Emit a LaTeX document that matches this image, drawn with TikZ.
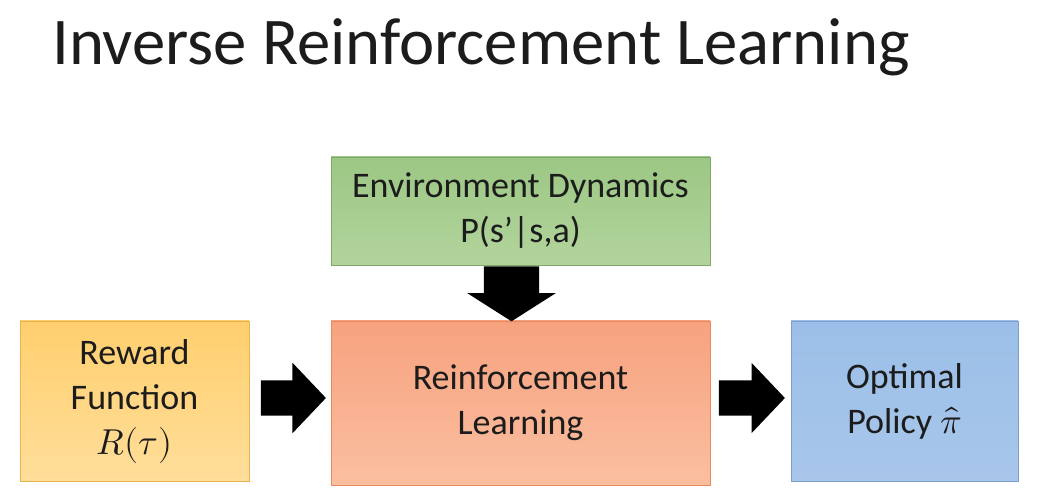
\documentclass[tikz,border=0pt]{standalone}
\usepackage{unicode-math}
\setmainfont{Carlito}
\setmathfont{Latin Modern Math}
\usetikzlibrary{shapes.arrows,positioning}
\definecolor{grnT}{HTML}{9CC784}
\definecolor{grnB}{HTML}{B2D49C}
\definecolor{grnD}{HTML}{7FA866}
\definecolor{yelT}{HTML}{FFCF6E}
\definecolor{yelB}{HTML}{FFDE9A}
\definecolor{yelD}{HTML}{E8B34E}
\definecolor{orT}{HTML}{F7A27F}
\definecolor{orB}{HTML}{FABFA0}
\definecolor{orD}{HTML}{E8885C}
\definecolor{bluT}{HTML}{9BBFE8}
\definecolor{bluB}{HTML}{A8C6EA}
\definecolor{bluD}{HTML}{7C9FCC}
\definecolor{ink}{HTML}{1C1C1C}
\tikzset{
  box/.style={draw, line width=0.8pt, align=center, text=ink, font=\fontsize{36}{45}\selectfont, inner sep=0pt},
  fat/.style={single arrow, fill=black, draw=none, minimum width=#1}
}
\begin{document}
\begin{tikzpicture}[x=1pt,y=-1pt]
\useasboundingbox[fill=white] (0,0) rectangle (1047,494);
\node[anchor=base west, text=ink, font=\fontsize{66.7}{80}\selectfont, inner sep=0pt] (title) at (52,65) {Inverse Reinforcement Learning};
\node[box, draw=grnD, top color=grnT, bottom color=grnB, minimum width=379pt, minimum height=108pt] (env) at (520.5,211) {Environment Dynamics\\P(s’|s,a)};
\node[box, draw=yelD, top color=yelT, bottom color=yelB, minimum width=229pt, minimum height=160pt] (rew) at (134.5,401) {Reward\\Function\\$R(\tau)$};
\node[box, draw=orD, top color=orT, bottom color=orB, minimum width=379pt, minimum height=164pt] (rl) at (520.5,403) {\rule{0pt}{12pt}Reinforcement\\Learning};
\node[box, draw=bluD, top color=bluT, bottom color=bluB, minimum width=227pt, minimum height=160pt] (pol) at (904.5,401) {Optimal\\Policy $\hat{\pi}$};
\path (rew.east) -- (rl.west) coordinate[pos=0.5] (m1);
\path (rl.east) -- (pol.west) coordinate[pos=0.5] (m2);
\path (env.south) -- (rl.north) coordinate[pos=0.5] (m3);
\node[fat=70pt, inner xsep=0pt, inner ysep=17.5pt, minimum height=65pt, single arrow head extend=17.5pt, single arrow tip angle=93] (a1) at ([xshift=-5pt,yshift=4pt]m1) {};
\node[fat=70pt, inner xsep=0pt, inner ysep=17.5pt, minimum height=66pt, single arrow head extend=17.5pt, single arrow tip angle=93] (a2) at ([xshift=-7pt,yshift=4pt]m2) {};
\node[fat=88pt, inner ysep=0pt, inner xsep=27.5pt, minimum height=55pt, single arrow head extend=16.5pt, single arrow tip angle=115, shape border rotate=270] (a3) at ([xshift=-9pt,yshift=8pt]m3) {};
\end{tikzpicture}
\end{document}
